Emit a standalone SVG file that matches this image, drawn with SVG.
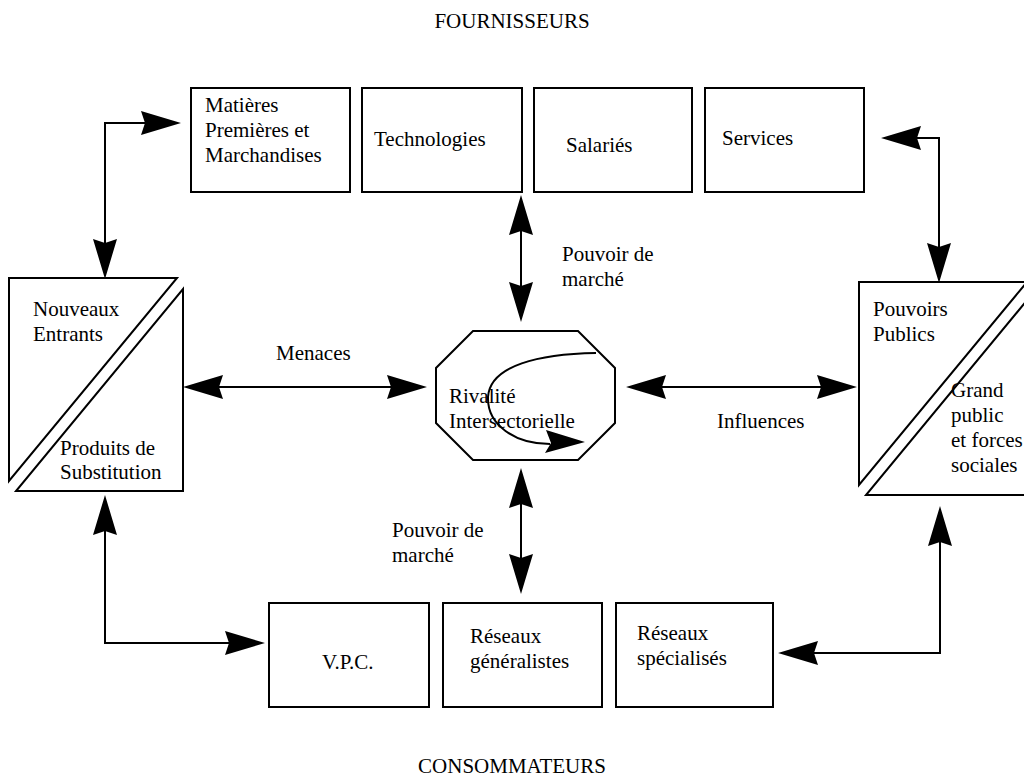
<svg xmlns="http://www.w3.org/2000/svg" width="1024" height="781" viewBox="0 0 1024 781">
<style>
text{font-family:"Liberation Serif","Times New Roman",serif;font-size:21px;fill:#000}
.box{fill:#fff;stroke:#000;stroke-width:2}
.tri{fill:none;stroke:#000;stroke-width:2;stroke-linejoin:miter}
.con{fill:none;stroke:#000;stroke-width:2;marker-start:url(#ah);marker-end:url(#ah)}
.mid{text-anchor:middle}
</style>
<defs>
<marker id="ah" markerUnits="userSpaceOnUse" viewBox="-2 -14 44 28" refX="4" refY="0" markerWidth="44" markerHeight="28" orient="auto-start-reverse" overflow="visible">
<path d="M0,-12 L40,0 L0,12 L4,0 Z" fill="#000"/>
</marker>
</defs>
<rect width="1024" height="781" fill="#fff"/>
<text class="mid" x="512" y="28">FOURNISSEURS</text>
<text class="mid" x="512" y="773">CONSOMMATEURS</text>

<g id="matieres"><rect class="box" x="191" y="88" width="159" height="104"/>
<text x="205" y="112">Matières</text><text x="205" y="137">Premières et</text><text x="205" y="162">Marchandises</text></g>
<g id="technologies"><rect class="box" x="362" y="88" width="160" height="104"/>
<text x="374" y="146">Technologies</text></g>
<g id="salaries"><rect class="box" x="534" y="88" width="158" height="104"/>
<text x="566" y="152">Salariés</text></g>
<g id="services"><rect class="box" x="705" y="88" width="159" height="104"/>
<text x="722" y="145">Services</text></g>

<g id="nouveaux-entrants">
<path class="tri" d="M9,278 L177,278 L9,481 Z"/>
<path class="tri" d="M183,289 L183,491 L16,491 Z"/>
<text x="33" y="316">Nouveaux</text><text x="33" y="341">Entrants</text>
<text x="60" y="455">Produits de</text><text x="60" y="479">Substitution</text></g>

<g id="pouvoirs-publics">
<path class="tri" d="M859,282 L1027,282 L859,485 Z"/>
<path class="tri" d="M1033,293 L1033,495 L866,495 Z"/>
<text x="873" y="316">Pouvoirs</text><text x="873" y="341">Publics</text>
<text x="951" y="397">Grand</text><text x="951" y="422">public</text><text x="951" y="447">et forces</text><text x="951" y="472">sociales</text></g>

<g id="rivalite">
<polygon class="box" points="473,331 578,331 615,368 615,423 578,460 473,460 436,423 436,368"/>
<text x="449" y="403">Rivalité</text><text x="449" y="428">Intersectorielle</text>
<path d="M596,353 C540,354 490,365 488,397 C487,425 515,444 550,444" fill="none" stroke="#000" stroke-width="2"/>
<polygon points="585,442 546,430 551,443 545,453" fill="#000"/></g>

<g id="vpc"><rect class="box" x="269" y="603" width="160" height="104"/>
<text x="322" y="669">V.P.C.</text></g>
<g id="reseaux-generalistes"><rect class="box" x="443" y="603" width="159" height="104"/>
<text x="470" y="643">Réseaux</text><text x="470" y="668">généralistes</text></g>
<g id="reseaux-specialises"><rect class="box" x="616" y="603" width="157" height="104"/>
<text x="637" y="640">Réseaux</text><text x="637" y="665">spécialisés</text></g>

<g id="labels">
<text x="276" y="360">Menaces</text>
<text x="717" y="428">Influences</text>
<text x="562" y="261">Pouvoir de</text><text x="562" y="286">marché</text>
<text x="392" y="537">Pouvoir de</text><text x="392" y="562">marché</text>
</g>

<g id="connectors">
<path class="con" d="M145,123 L105,123 L105,243"/>
<path class="con" d="M521,231 L521,286"/>
<path class="con" d="M917,138 L939,138 L939,247"/>
<path class="con" d="M219,387 L391,387"/>
<path class="con" d="M662,387 L821,387"/>
<path class="con" d="M521,504 L521,558"/>
<path class="con" d="M105,531 L105,643 L229,643"/>
<path class="con" d="M940,542 L940,653 L814,653"/>
</g>
</svg>
